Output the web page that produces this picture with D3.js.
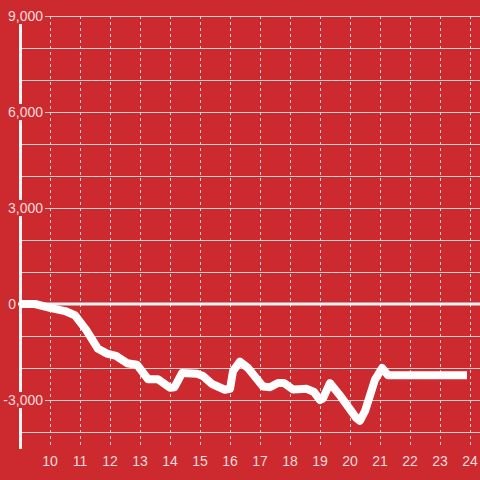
<!DOCTYPE html>
<html>
<head>
<meta charset="utf-8">
<script src="https://cdn.jsdelivr.net/npm/d3@7"></script>
<style>
  body { margin: 0; background: #cc2a2f; }
  svg { display: block; }
</style>
</head>
<body>
<svg width="480" height="480"></svg>
<script>
const width = 480;
const height = 480;

// hour of day vs value
const hours = [9, 9.5, 10, 10.5, 10.83, 11.2, 11.6, 11.9, 12.2, 12.57, 12.9, 13.27, 13.6, 14.0, 14.15, 14.4, 14.9, 15.1, 15.4, 15.83, 16.0, 16.1, 16.33, 16.6, 17.1, 17.33, 17.6, 17.8, 18.1, 18.56, 18.8, 19.0, 19.1, 19.33, 19.7, 20.2, 20.33, 20.5, 20.83, 21.07, 21.27, 23.9];
const values = [0, 0, -120, -220, -350, -800, -1400, -1550, -1620, -1850, -1900, -2350, -2350, -2620, -2600, -2160, -2180, -2250, -2500, -2680, -2650, -2100, -1800, -2000, -2580, -2600, -2470, -2470, -2670, -2650, -2750, -3000, -2950, -2470, -2900, -3550, -3650, -3350, -2370, -2000, -2230, -2230];

const yTicks = [-4000, -3000, -2000, -1000, 0, 1000, 2000, 3000, 4000, 5000, 6000, 7000, 8000, 9000];
const yLabels = [-3000, 0, 3000, 6000, 9000];
const xTicks = [10, 11, 12, 13, 14, 15, 16, 17, 18, 19, 20, 21, 22, 23, 24];

const bg = '#cc2a2f';
const gridColor = '#d0d0d0';
const textColor = '#f4dada';

const x = d3.scaleLinear().domain([9, 24.333]).range([20, width]);
const y = d3.scaleLinear().domain([-4500, 9000]).range([448, 16]);

const svg = d3.select('svg');

svg.append('rect').attr('width', width).attr('height', height).attr('fill', bg);

// horizontal grid
svg.append('g')
    .attr('stroke', gridColor)
    .attr('stroke-width', 1)
    .selectAll('line')
    .data(yTicks)
    .join('line')
    .attr('x1', 20)
    .attr('x2', width)
    .attr('y1', d => Math.round(y(d)) + 0.5)
    .attr('y2', d => Math.round(y(d)) + 0.5);

// vertical dashed grid
svg.append('g')
    .attr('stroke', gridColor)
    .attr('stroke-width', 1)
    .attr('stroke-dasharray', '3,3')
    .selectAll('line')
    .data(xTicks)
    .join('line')
    .attr('x1', d => Math.round(x(d)) + 0.5)
    .attr('x2', d => Math.round(x(d)) + 0.5)
    .attr('y1', y(9000))
    .attr('y2', 448);

// zero line
svg.append('line')
    .attr('x1', 17).attr('x2', width)
    .attr('y1', y(0)).attr('y2', y(0))
    .attr('stroke', '#f4f4f4')
    .attr('stroke-width', 3);

// y axis line
svg.append('line')
    .attr('x1', 20.5).attr('x2', 20.5)
    .attr('y1', 16).attr('y2', 449)
    .attr('stroke', '#f4f4f4')
    .attr('stroke-width', 3);

// data line
const line = d3.line()
    .x((d, i) => x(hours[i]))
    .y(d => y(d));

svg.append('path')
    .datum(values)
    .attr('fill', 'none')
    .attr('stroke', '#ffffff')
    .attr('stroke-width', 8)
    .attr('stroke-linejoin', 'round')
    .attr('d', line);

// y labels with background boxes (zero label sits left of the axis)
const yl = svg.append('g')
    .attr('font-family', 'Liberation Sans, Arial, sans-serif')
    .attr('font-size', 14)
    .selectAll('g')
    .data(yLabels)
    .join('g')
    .attr('transform', d => `translate(${d === 0 ? 16 : 43},${y(d)})`);

const rects = yl.append('rect').attr('fill', bg);

yl.append('text')
    .attr('dy', '0.35em')
    .attr('text-anchor', 'end')
    .attr('fill', textColor)
    .text(d => d3.format(',')(d).replace('−', '-'))
    .each(function(d, i) {
      const len = this.getComputedTextLength();
      d3.select(rects.nodes()[i])
          .attr('x', -len - 2)
          .attr('y', -8)
          .attr('width', len + 4)
          .attr('height', 16);
    });

// x labels
svg.append('g')
    .attr('font-family', 'Liberation Sans, Arial, sans-serif')
    .attr('font-size', 14)
    .attr('fill', textColor)
    .attr('text-anchor', 'middle')
    .selectAll('text')
    .data(xTicks)
    .join('text')
    .attr('x', d => x(d))
    .attr('y', 466)
    .text(d => d);
</script>
</body>
</html>
